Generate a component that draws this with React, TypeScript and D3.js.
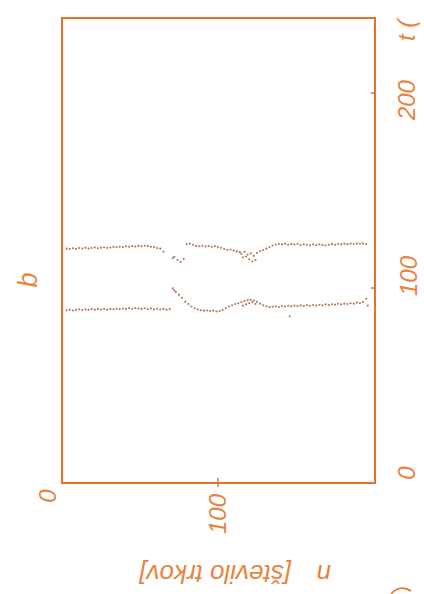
import React from 'react';
import * as d3 from 'd3';

// upper band of measured times, [n, t]
const upperBand: [number, number][] = [
  [3, 120.2], [5, 120.0], [7, 120.4], [9, 120.1], [11, 120.5], [13, 120.3], [15, 120.6], [17, 120.2],
  [19, 120.5], [21, 120.8], [23, 120.4], [25, 120.7], [27, 120.9], [29, 120.6], [31, 120.8], [33, 121.1],
  [35, 120.9], [37, 121.2], [39, 121.0], [41, 121.4], [43, 121.2], [45, 121.5], [47, 121.3], [49, 121.6],
  [51, 121.4], [53, 121.7], [55, 121.5], [57, 121.2], [59, 121.0], [61, 120.5], [63, 120.2], [65, 118.6],
  [71, 115.4], [72, 116.0], [74, 114.4], [76, 113.3], [78, 114.9],
  [80, 122.6], [82, 122.8], [84, 122.2], [86, 121.6], [88, 121.4], [90, 121.7], [92, 121.3], [94, 121.5],
  [96, 121.2], [98, 121.4], [100, 121.0], [102, 120.6],
  [104, 120.0], [106, 119.5], [108, 119.8], [110, 119.2], [112, 118.8], [114, 118.4],
  [115, 117.6], [116, 115.8], [117, 118.6], [118, 116.2], [119, 117.2], [120, 114.8], [121, 117.8],
  [122, 113.6], [123, 116.5], [124, 114.4], [125, 118.0], [127, 119.0],
  [129, 119.5], [131, 120.2], [133, 121.0], [135, 121.8],
  [137, 122.3], [139, 122.6], [141, 122.4], [143, 122.7], [145, 122.2], [147, 122.5], [149, 122.3],
  [151, 122.6], [153, 122.1], [155, 122.4], [157, 122.2], [159, 121.9], [161, 122.3], [163, 122.0],
  [165, 122.4], [167, 122.1], [169, 121.8], [171, 122.2], [173, 122.5], [175, 122.2], [177, 122.6],
  [179, 122.4], [181, 122.7], [183, 122.5], [185, 122.8], [187, 122.6], [189, 122.9], [191, 122.7],
  [193, 122.9], [195, 122.6],
];

// lower band, [n, t]
const lowerBand: [number, number][] = [
  [3, 88.6], [5, 88.9], [7, 88.5], [9, 88.8], [11, 89.1], [13, 88.7], [15, 89.0], [17, 88.8],
  [19, 89.2], [21, 88.9], [23, 89.3], [25, 89.0], [27, 89.2], [29, 88.9], [31, 89.3], [33, 89.1],
  [35, 89.4], [37, 89.2], [39, 89.5], [41, 89.3], [43, 89.6], [45, 89.4], [47, 89.7], [49, 89.5],
  [51, 89.3], [53, 89.6], [55, 89.2], [57, 89.5], [59, 89.1], [61, 89.4], [63, 89.0], [65, 89.3],
  [67, 88.9], [69, 89.2],
  [71, 99.8], [72, 98.8], [73, 98.0], [75, 96.5], [77, 95.0], [79, 93.0], [81, 91.8], [83, 90.5],
  [85, 89.6], [87, 89.0], [89, 88.6], [91, 88.4], [93, 88.5], [95, 88.2], [97, 88.4], [99, 88.0],
  [101, 88.2], [103, 88.8], [105, 89.6], [107, 90.5], [109, 91.2], [111, 91.8], [113, 92.2],
  [115, 92.8], [116, 91.0], [117, 93.3], [118, 91.6], [119, 93.8], [120, 92.2], [121, 94.0],
  [122, 92.8], [123, 93.6], [124, 91.8], [125, 93.0], [127, 92.0],
  [129, 91.2], [131, 90.6], [133, 90.2], [135, 90.4],
  [137, 90.6], [139, 90.3], [141, 90.8], [143, 90.5], [145, 90.9], [146, 85.5], [147, 90.6], [149, 91.0],
  [151, 90.7], [153, 91.1], [155, 90.8], [157, 91.2], [159, 90.9], [161, 91.3], [163, 91.0],
  [165, 91.4], [167, 91.2], [169, 91.6], [171, 91.3], [173, 91.7], [175, 91.5], [177, 91.9],
  [179, 91.6], [181, 92.0], [183, 91.8], [185, 92.2], [187, 92.0], [189, 92.5], [191, 92.3],
  [193, 92.8], [195, 94.5], [196, 91.0],
];

const nTicks = [0, 100];
const tTicks = [0, 100, 200];

const ORANGE = '#e6702e';
const TEXT = '#e7843f';
const DOT = '#a65a3a';

export default function App() {
  const left = 62, right = 375, top = 18, bottom = 483;
  const x = d3.scaleLinear().domain([0, 200]).range([left, 374]);
  const y = d3.scaleLinear().domain([0, 238.5]).range([bottom, top]);

  // label nudges, the scanned page is a bit warped
  const tLabelY: Record<number, number> = { 0: -10, 100: -12, 200: 7 };
  const font = { fontFamily: 'Liberation Sans, Arial, sans-serif', fontStyle: 'italic' as const };

  return (
    <svg width={424} height={594} style={{ position: 'absolute', left: 0, top: 0, background: '#fff' }}>
      <rect x={left} y={top} width={right - left} height={bottom - top}
        fill="none" stroke={ORANGE} strokeWidth={2} />

      {/* right axis ticks (t) */}
      {tTicks.filter(d => d > 0).map(d => (
        <line key={'tt' + d} x1={right - 4} x2={right} y1={y(d)} y2={y(d)} stroke={ORANGE} strokeWidth={1.5} />
      ))}
      {/* bottom tick (n) */}
      {nTicks.filter(d => d > 0).map(d => (
        <line key={'nt' + d} x1={x(d)} x2={x(d)} y1={bottom - 5} y2={bottom + 4} stroke={ORANGE} strokeWidth={1.5} />
      ))}

      {upperBand.map(([n, t], i) => (
        <circle key={'u' + i} cx={x(n)} cy={y(t)} r={1.05} fill={DOT} opacity={0.85} />
      ))}
      {lowerBand.map(([n, t], i) => (
        <circle key={'l' + i} cx={x(n)} cy={y(t)} r={1.05} fill={DOT} opacity={0.85} />
      ))}

      {/* t axis labels, rotated */}
      {tTicks.map(d => (
        <text key={'tl' + d} transform={`translate(${d === 100 ? 417 : 415},${y(d) + tLabelY[d]}) rotate(-90)`}
          textAnchor="middle" fontSize={24} fill={TEXT} {...font}>{d}</text>
      ))}
      <text transform="translate(415,41) rotate(-90)" textAnchor="start" fontSize={24} fill={TEXT} {...font}>t (</text>

      {/* n axis labels */}
      {nTicks.map(d => (
        <text key={'nl' + d} transform={`translate(${d === 0 ? 56 : 226},${d === 0 ? 496 : 514}) rotate(-90)`}
          textAnchor="middle" fontSize={24} fill={TEXT} {...font}>{d}</text>
      ))}
      <text transform="translate(331,565) rotate(180)" textAnchor="start" fontSize={26} fill={TEXT} {...font}>n</text>
      <text transform="translate(291,565) rotate(180)" textAnchor="start" fontSize={26} fill={TEXT} {...font}>[število trkov]</text>

      {/* panel letter */}
      <text transform="translate(37,280) rotate(-90)" textAnchor="middle" fontSize={27} fill={TEXT} {...font}>b</text>

      {/* bit of a glyph cut by the page edge */}
      <path d="M391,594 Q400,584 411,591" fill="none" stroke={ORANGE} strokeWidth={1.5} />
    </svg>
  );
}
